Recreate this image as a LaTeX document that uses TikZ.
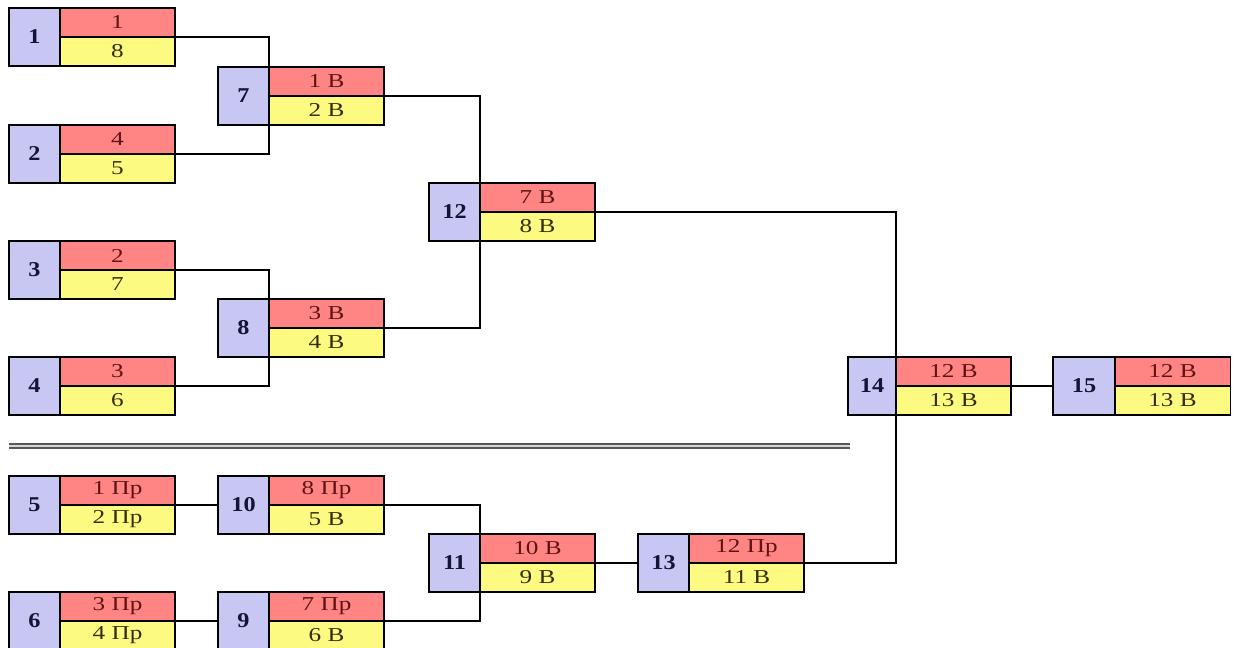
\documentclass[tikz,border=0pt]{standalone}
\usepackage{fontspec}
\setmainfont{Liberation Serif}
\newfontfamily\gamefont[FakeStretch=1.28]{Liberation Serif}
\newfontfamily\numfont[FakeStretch=1.15]{Liberation Serif}
\usepackage{tikz}

\definecolor{numcol}{RGB}{200,198,242}
\definecolor{topcol}{RGB}{255,132,132}
\definecolor{botcol}{RGB}{252,250,128}
\definecolor{toptxt}{RGB}{95,20,20}
\definecolor{bottxt}{RGB}{50,45,10}
\definecolor{numtxt}{RGB}{20,20,55}

\tikzset{
  numbox/.style={draw=black, fill=numcol, text=numtxt, line width=0.8pt,
    minimum width=1.275cm, minimum height=1.45cm, inner sep=0pt, outer sep=0pt,
    font=\numfont\fontsize{15}{17}\selectfont\bfseries},
  topbox/.style={draw=black, fill=topcol, text=toptxt, line width=0.8pt,
    minimum width=2.875cm, minimum height=0.725cm, inner sep=0pt, outer sep=0pt,
    font=\gamefont\fontsize{14}{16}\selectfont},
  botbox/.style={topbox, fill=botcol, text=bottxt},
  link/.style={black, line width=0.9pt},
  sepline/.style={draw=gray!70!black, double=gray!30, double distance=1.8pt, line width=1.2pt}
}

% one game: [extra number box keys]{name}{x}{y}{number}{upper}{lower}
\newcommand{\game}[7][]{%
  \node[numbox, anchor=north west, #1] (#2-n) at (#3,#4) {#5};
  \node[topbox, anchor=south west] (#2-t) at (#2-n.east) {#6};
  \node[botbox, anchor=north west] (#2-b) at (#2-n.east) {#7};
}

\begin{document}
\begin{tikzpicture}[x=0.025cm, y=-0.025cm]
        \useasboundingbox (0,0) rectangle (1233,648);

        % upper bracket
        \game{m1}{9}{8}{1}{1}{8}
        \game{m2}{9}{125}{2}{4}{5}
        \game{m3}{9}{241}{3}{2}{7}
        \game{m4}{9}{357}{4}{3}{6}
        \game{m7}{218}{67}{7}{1 В}{2 В}
        \game{m8}{218}{299}{8}{3 В}{4 В}
        \game{m12}{429}{183}{12}{7 В}{8 В}

        % lower bracket
        \game{m5}{9}{476}{5}{1 Пр}{2 Пр}
        \game{m6}{9}{592}{6}{3 Пр}{4 Пр}
        \game{m10}{218}{476}{10}{8 Пр}{5 В}
        \game{m9}{218}{592}{9}{7 Пр}{6 В}
        \game{m11}{429}{534}{11}{10 В}{9 В}
        \game{m13}{638}{534}{13}{12 Пр}{11 В}

        % final
        \game[minimum width=1.2cm]{m14}{848}{357}{14}{12 В}{13 В}
        \game[minimum width=1.55cm]{m15}{1053}{357}{15}{12 В}{13 В}

        \coordinate (sepL) at (9,446);
        \coordinate (sepR) at (850,446);
        \draw[sepline] (sepL) -- (sepR);

        \draw[link] (m1-t.south east) -| (m7-t.south west) |- (m2-t.south east);
        \draw[link] (m3-t.south east) -| (m8-t.south west) |- (m4-t.south east);
        \draw[link] (m7-t.south east) -| (m12-t.south west) |- (m8-t.south east);
        \draw[link] (m12-t.south east) -| (m14-t.south west) |- (m13-t.south east);
        \draw[link] (m14-t.south east) -- (m15-n.west);

        \draw[link] (m5-t.south east) -- (m10-n.west);
        \draw[link] (m6-t.south east) -- (m9-n.west);
        \draw[link] (m10-t.south east) -| (m11-t.south west) |- (m9-t.south east);
        \draw[link] (m11-t.south east) -- (m13-n.west);
\end{tikzpicture}
\end{document}
